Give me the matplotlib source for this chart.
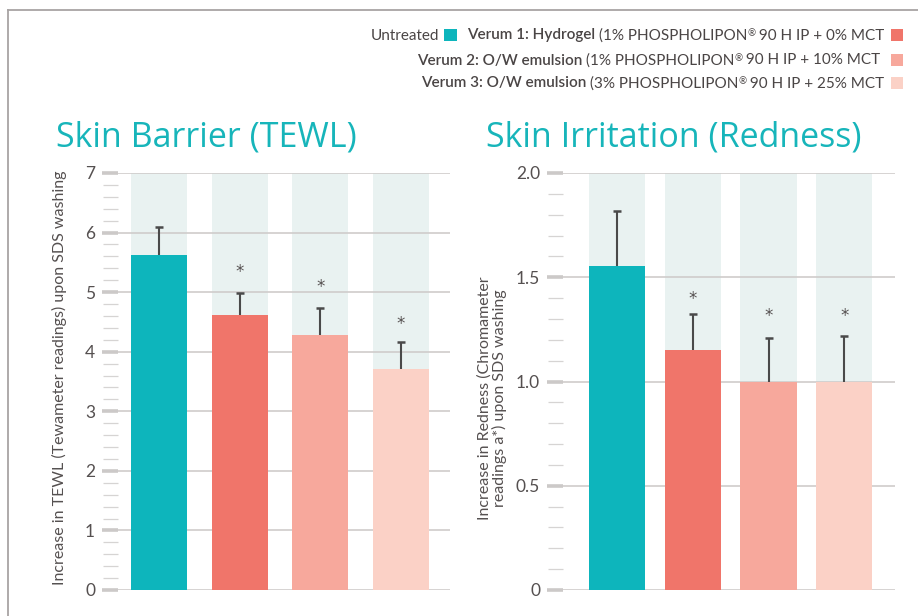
import matplotlib
matplotlib.use("Agg")
import matplotlib.pyplot as plt
from matplotlib.patches import Rectangle
from matplotlib.lines import Line2D
from matplotlib.ticker import MultipleLocator, FuncFormatter

plt.rcParams['font.family'] = ['Lato', 'DejaVu Sans']

# ---------------- data ----------------
groups = ["Untreated", "Verum 1", "Verum 2", "Verum 3"]
colors = ["#0DB5BC", "#F0756A", "#F7A89C", "#FBD1C6"]

tewl_values = [5.63, 4.62, 4.28, 3.71]
tewl_err_up = [0.47, 0.37, 0.46, 0.46]
tewl_star = [None, 5.33, 5.09, 4.47]

red_values = [1.555, 1.152, 1.0, 1.0]
red_err_up = [0.262, 0.173, 0.207, 0.22]
red_star = [None, 1.395, 1.315, 1.315]

titles = ["Skin Barrier (TEWL)", "Skin Irritation (Redness)"]
ylabels = ["Increase in TEWL (Tewameter readings) upon SDS washing",
           "Increase in Redness (Chromameter\nreadings a*) upon SDS washing"]

W, H = 918, 616
fig = plt.figure(figsize=(W / 100, H / 100), dpi=100)
fig.patch.set_facecolor("white")

TEAL = "#17B5BA"
TXT = "#555050"
BG = "#E9F2F1"
GRID = "#CFCCCB"
ERR = "#4a4a4a"


def fx(x):
    return x / W


def fy(y):
    return 1 - y / H


def make_axes(left_px, xlim, ymax, major, minor, values, errs, stars, width, fmt):
    ax = fig.add_axes([fx(left_px), fy(590), fx(332), 417 / H])
    x = list(range(len(values)))
    ax.bar(x, [ymax] * len(x), width=width, color=BG, zorder=0.5)
    for t in [i * major for i in range(int(round(ymax / major)) + 1)]:
        ax.axhline(t, color=GRID, lw=1.2, zorder=1)
    ax.bar(x, values, width=width, color=colors, zorder=2)
    tops = [v + e for v, e in zip(values, errs)]
    ax.vlines(x, values, tops, color=ERR, lw=1.5, zorder=3)
    ax.plot(x, tops, ls='none', marker='_', markersize=6, markeredgewidth=1.8,
            color=ERR, zorder=3)
    for xi, s in zip(x, stars):
        if s is not None:
            ax.text(xi, s, "*", ha='center', va='center', fontsize=12, color=TXT, zorder=4,
                    family=['DejaVu Sans'])
    ax.set_xlim(*xlim)
    ax.set_ylim(0, ymax)
    for sp in ax.spines.values():
        sp.set_visible(False)
    ax.set_xticks([])
    ax.yaxis.set_major_locator(MultipleLocator(major))
    ax.yaxis.set_minor_locator(MultipleLocator(minor))
    ax.yaxis.set_major_formatter(FuncFormatter(fmt))
    ax.tick_params(axis='y', which='major', length=11.5, width=2.6, color="#CCC9C8",
                   pad=5, labelsize=12.5, labelcolor=TXT)
    ax.tick_params(axis='y', which='minor', length=11, width=0.9, color="#D6D4D3")
    ax.patch.set_alpha(0)
    return ax


ax1 = make_axes(118, (-0.51, 3.61), 7, 1, 0.2, tewl_values, tewl_err_up, tewl_star, 0.694,
                lambda v, p: f"{v:.0f}")
ax2 = make_axes(563, (-0.713, 3.67), 2.0, 0.5, 0.1, red_values, red_err_up, red_star, 0.74,
                lambda v, p: "0" if abs(v) < 1e-9 else f"{v:.1f}")

# titles
fig.text(fx(56), fy(146), titles[0], fontsize=24.5, color=TEAL, ha='left', va='baseline',
         family=['Open Sans', 'DejaVu Sans'])
fig.text(fx(486), fy(146), titles[1], fontsize=24.5, color=TEAL, ha='left', va='baseline',
         family=['Open Sans', 'DejaVu Sans'])

# y labels
fig.text(fx(59), fy(378), ylabels[0], rotation=90, ha='center', va='center',
         fontsize=11.5, color=TXT)
fig.text(fx(492), fy(398), ylabels[1], rotation=90, ha='center', va='center',
         fontsize=11.5, color=TXT, multialignment='center', linespacing=1.05)

# frame
fig.add_artist(Line2D([fx(8), fx(8)], [fy(10), 0], color="#A8A4A4", lw=1.3))
fig.add_artist(Line2D([fx(8), 1], [fy(10), fy(10)], color="#A8A4A4", lw=1.3))

# legend (right-aligned rows with mixed weights)
renderer = fig.canvas.get_renderer()
LFS = 11


def draw_row(segs, x_right, y_center):
    x = x_right
    for seg in reversed(segs):
        kind = seg[0]
        if kind == 'sq':
            size = 12.5
            fig.add_artist(Rectangle((fx(x - size), fy(y_center + size / 2)), fx(size), size / H,
                                     facecolor=seg[1], edgecolor='none', transform=fig.transFigure))
            x -= size
        elif kind == 'gap':
            x -= seg[1]
        else:
            txt, weight, fs, dy = seg[1], seg[2], seg[3], seg[4]
            t = fig.text(fx(x), fy(y_center + 4.5 - dy), txt, ha='right', va='baseline',
                         fontsize=fs, fontweight=weight, color="#4a4545")
            bb = t.get_window_extent(renderer)
            x -= bb.width


rows_text = [
    ("Verum 1: Hydrogel", "(1% PHOSPHOLIPON", " 90 H IP + 0% MCT", colors[1]),
    ("Verum 2: O/W emulsion", "(1% PHOSPHOLIPON", " 90 H IP + 10% MCT ", colors[2]),
    ("Verum 3: O/W emulsion", "(3% PHOSPHOLIPON", " 90 H IP + 25% MCT", colors[3]),
]
row_y = [35, 60, 83]
for i, (b, n1, n2, c) in enumerate(rows_text):
    segs = []
    if i == 0:
        segs += [('t', groups[0], 'normal', LFS, 0), ('gap', 5), ('sq', colors[0]), ('gap', 10)]
    segs += [('t', b + " ", 'semibold', LFS, 0), ('t', n1, 'normal', LFS, 0),
             ('t', "®", 'normal', 7, 3), ('t', " " + n2.lstrip(), 'normal', LFS, 0),
             ('gap', 6), ('sq', c)]
    draw_row(segs, 903, row_y[i])

fig.savefig("out.png", dpi=100, facecolor="white")
